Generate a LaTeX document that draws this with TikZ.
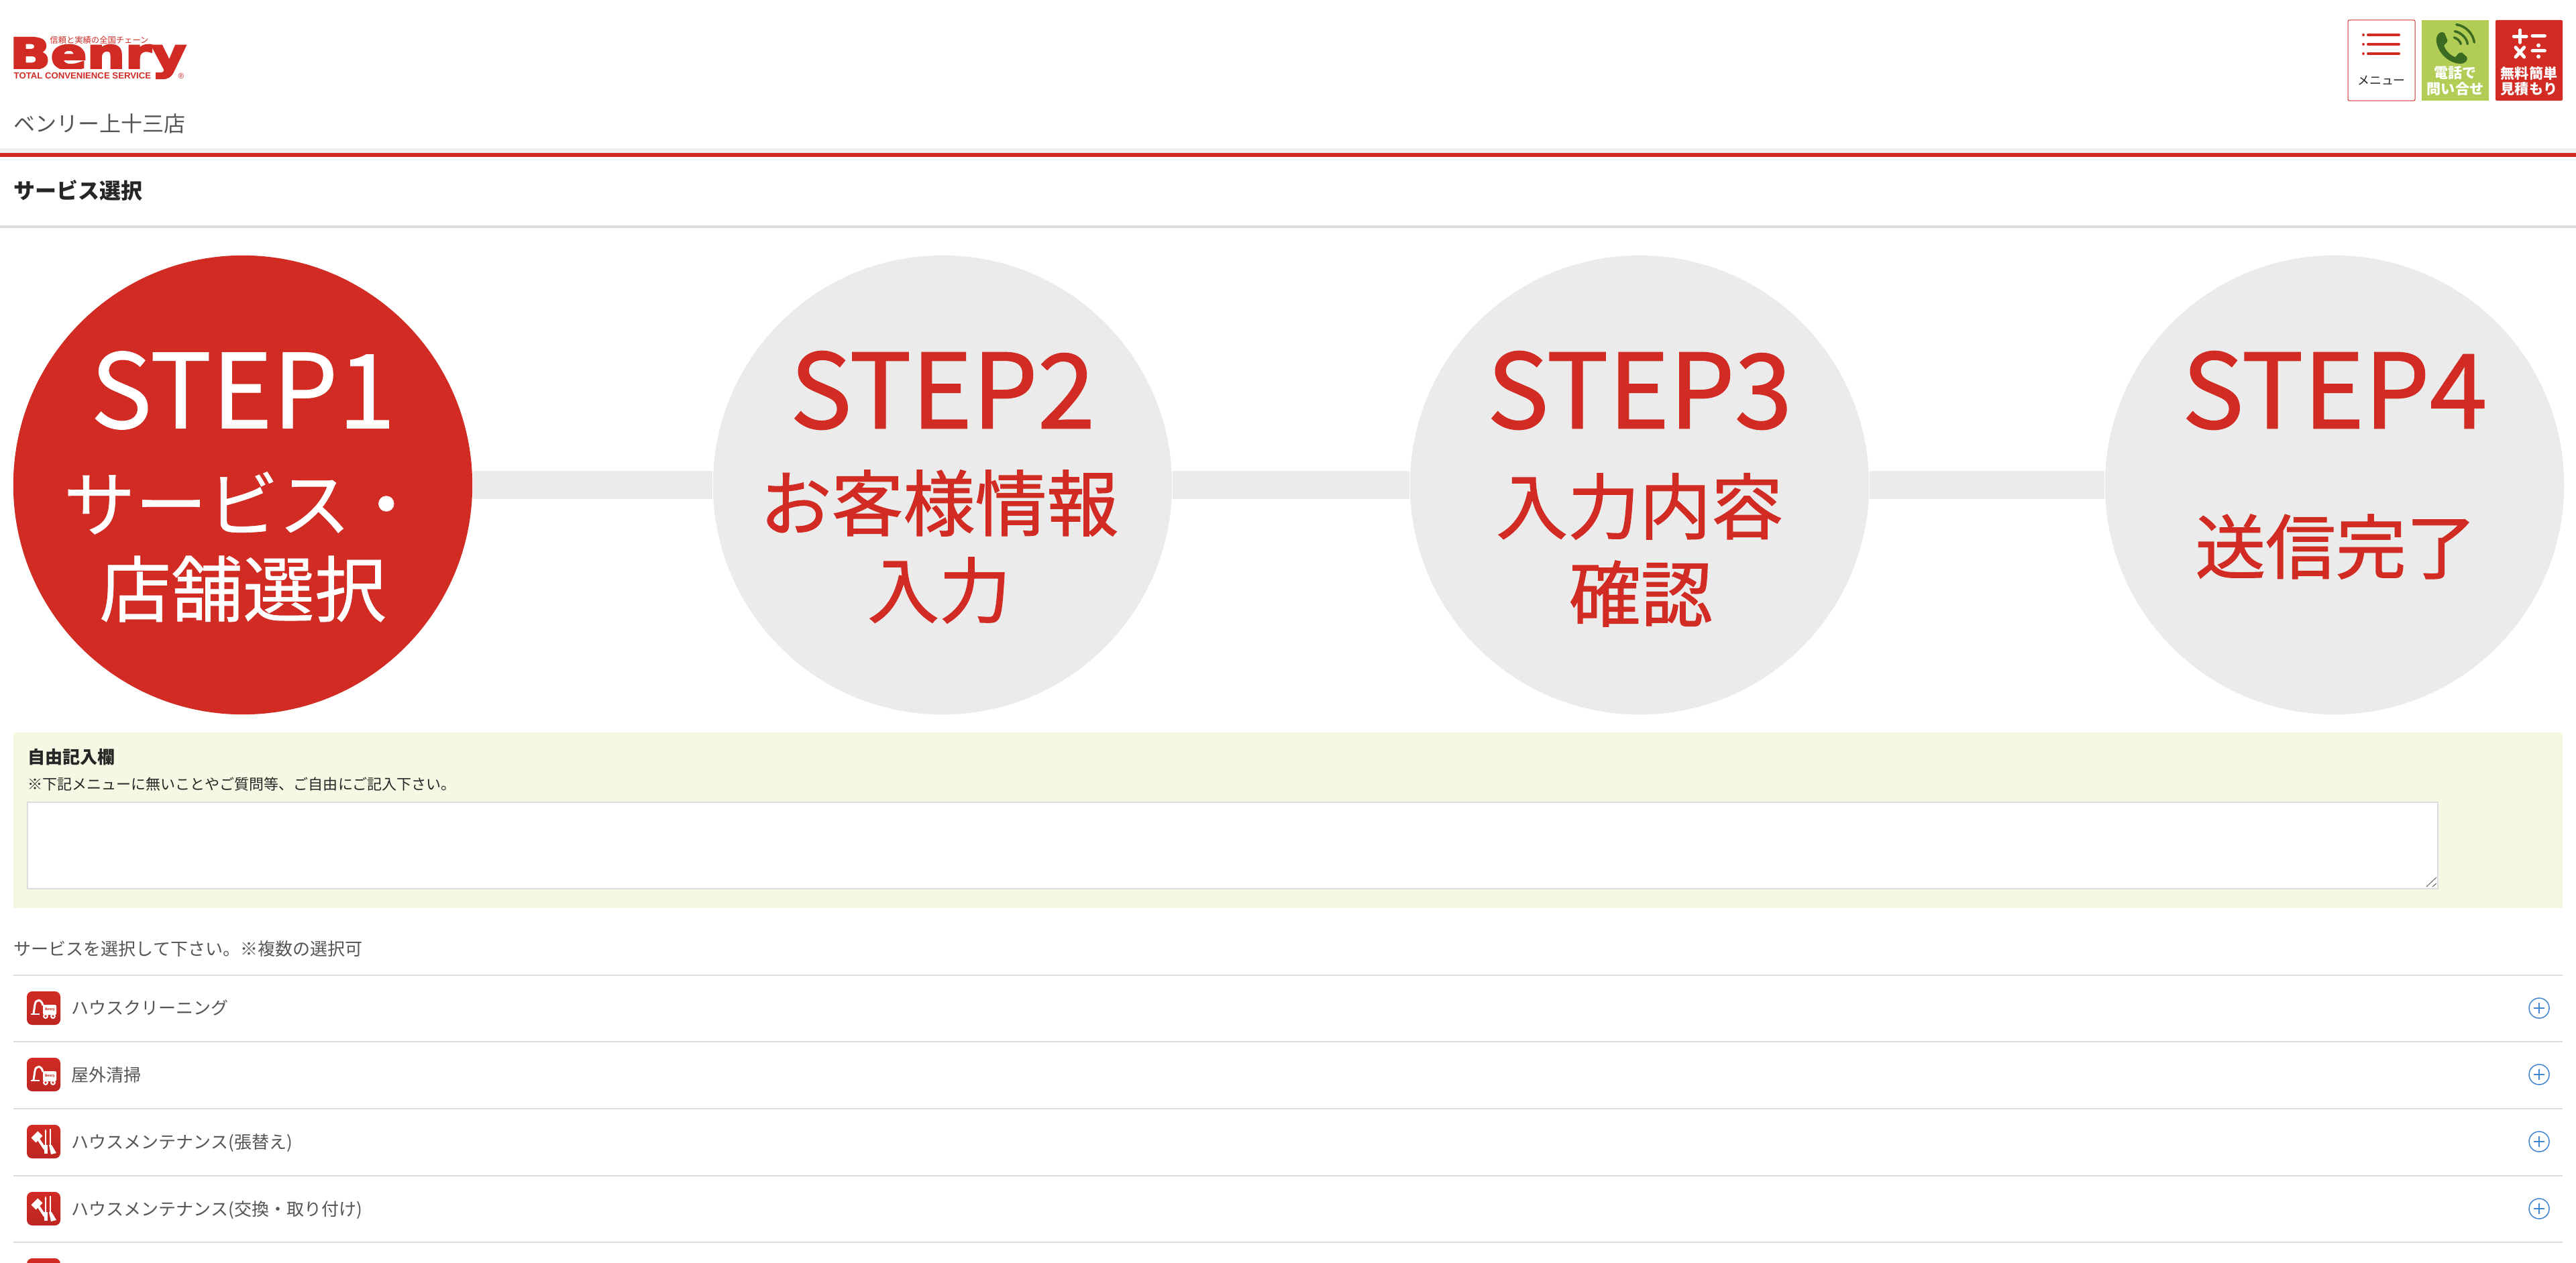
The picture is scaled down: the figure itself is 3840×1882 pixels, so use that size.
\documentclass[tikz,border=0pt]{standalone}
\usepackage{fontspec}
\usepackage{graphicx}
\usepackage{xcolor}
\setmainfont{Noto Sans CJK JP}
\newfontfamily\stepfont[FakeBold=1.2]{Noto Sans CJK JP}
\newfontfamily\whitefont[FakeBold=0.6]{Noto Sans CJK JP}
\newfontfamily\logofont[BoldFeatures={FakeBold=4}]{DejaVu Sans}
\newfontfamily\tagfont{Liberation Sans}
\usetikzlibrary{arrows.meta}
\definecolor{benryred}{HTML}{D12B24}
\definecolor{benrydark}{HTML}{BD2622}
\definecolor{stepgray}{HTML}{EBEBEB}
\definecolor{rulegray}{HTML}{DDDDDD}
\definecolor{panelgreen}{HTML}{F4F9E4}
\definecolor{callgreen}{HTML}{B1CD55}
\definecolor{phonegreen}{HTML}{3B6B22}
\definecolor{bodytext}{HTML}{555555}
\definecolor{plusblue}{HTML}{3F85D2}

\tikzset{
  stepdisc/.style={shape=circle,
    fill=stepgray,
    inner sep=0pt,
    minimum size=6.84cm},
  stepline/.style={draw=stepgray,line width=0.42cm},
  steptitle/.style={text=benryred,inner sep=0pt,font=\stepfont\fontsize{43.8}{50}\selectfont},
  stepword/.style={text=benryred,inner sep=0pt,font=\stepfont\fontsize{30.4}{36}\selectfont},
  rowlabel/.style={anchor=base west,inner sep=0pt,text=bodytext,font=\fontsize{7.4}{9}\selectfont},
  rowrule/.style={draw=rulegray,line width=0.02cm},
  rowplus/.style={draw=plusblue,line width=0.015cm},
  topbutton/.style={shape=rectangle,
    rounded corners=0.02cm,
    inner sep=0pt,
    minimum width=1cm,
    minimum height=1.2cm},
  buttonword/.style={inner sep=0pt,text=white,font=\bfseries\fontsize{6}{7}\selectfont},
  redstroke/.style={draw=benryred,line width=0.04cm,line cap=round},
  whitestroke/.style={draw=white,line width=0.05cm,line cap=round},
  iconbox/.style={rounded corners=0.08cm,top color=benryred,bottom color=benrydark,draw=none},
  vacuum icon/.pic={
    \path[iconbox] (0,0) rectangle (50,50);
    \draw[white,line width=0.025cm] (6,34) -- (19,34);
    \draw[white,line width=0.03cm] (10,33) -- (12,20) .. controls (13,11) and (22,11) .. (24,21);
    \fill[white,rounded corners=0.02cm] (24,20) rectangle (44,35);
    \fill[white] (28,37) circle (4) (39,37) circle (4);
    \fill[benryred] (28,37) circle (1.8) (39,37) circle (1.8);
    \node[inner sep=0pt,text=benryred,font=\bfseries\fontsize{1.4}{2}\selectfont] (-name) at (34.5,27) {Benry};
  },
  tools icon/.pic={
    \path[iconbox] (0,0) rectangle (50,50);
    \fill[white,rotate around={45:(15,18)}] (8,13) rectangle (22,23);
    \draw[white,line width=0.04cm] (15,18) -- (27,36);
    \draw[white,line width=0.02cm] (28,8) -- (28,30);
    \fill[white] (28,6) -- (29.5,11) -- (26.5,11) -- cycle;
    \draw[white,line width=0.015cm] (35,6) -- (35,32);
    \fill[white] (26,30) -- (31,30) -- (31,43) -- (26,43) -- cycle;
    \fill[white] (33,30) -- (37,30) -- (44,42) -- (36,44) -- cycle;
  }
}

\begin{document}
\begin{tikzpicture}[x=0.01cm,y=-0.01cm]
  \clip (0,0) rectangle (3840,1882);
  \fill[white] (0,0) rectangle (3840,1882);

  % logo
  \node[anchor=base west,inner sep=0pt,text=benryred,
    font=\logofont\bfseries\fontsize{18.3}{20}\selectfont] (logo) at (14,103) {\scalebox{1.24}[1]{Benry}};
  \fill[white] (0,103.5) rectangle (226,120);
  \node[anchor=base,inner sep=0pt,text=benryred,
    font=\fontsize{3.5}{4}\selectfont] (slogan) at (148,65) {信頼と実績の全国チェーン};
  \node[anchor=base west,inner sep=0pt,text=benryred,
    font=\tagfont\bfseries\fontsize{3.75}{4}\selectfont] (service) at (20,118) {TOTAL CONVENIENCE SERVICE};
  \node[inner sep=0pt,text=benryred,
    font=\tagfont\fontsize{3.4}{4}\selectfont] (regmark) at (270,113) {®};
  \node[anchor=base west,inner sep=0pt,text=bodytext,
    font=\fontsize{9.1}{11}\selectfont] (shop) at (20,196) {ベンリー上十三店};

  % top buttons
  \node[topbutton,draw=benryred,line width=0.01cm,fill=white] (menubtn) at (3550,90) {};
  \node[topbutton,fill=callgreen,rounded corners=0pt] (callbtn) at (3660,90) {};
  \node[topbutton,fill=benryred] (quotebtn) at (3770,90) {};

  \foreach \rowy in {52,66,80}{
    \fill[benryred] (3523,\rowy) circle (2);
    \draw[redstroke] (3530,\rowy) -- (3576,\rowy);
  }
  \node[inner sep=0pt,text=black!85,font=\fontsize{5.1}{6}\selectfont] (menuword) at (3550,120) {メニュー};

  \begin{scope}[shift={(3440,0)},x=0.01cm/3,y=-0.01cm/3]
    \fill[phonegreen]
      (575,175) .. controls (578,150) and (598,135) .. (612,148) --
      (625,180) .. controls (625,195) and (610,195) .. (610,205) ..
      controls (615,225) and (640,250) .. (660,255) ..
      controls (668,250) and (672,232) .. (690,235) --
      (712,255) .. controls (718,270) and (705,285) .. (680,285) ..
      controls (620,280) and (575,225) .. (575,175) -- cycle;
    \draw[phonegreen,line width=0.035cm,line cap=round]
      (665,110) .. controls (705,115) and (740,150) .. (745,190)
      (658,140) .. controls (685,145) and (712,170) .. (715,197)
      (655,168) .. controls (670,172) and (682,185) .. (685,197);
    \draw[whitestroke] (950,135) -- (950,190) (922,163) -- (978,163);
    \draw[whitestroke] (1005,160) -- (1060,160);
    \draw[whitestroke] (930,212) -- (968,255) (968,212) -- (930,255);
    \draw[whitestroke] (1005,228) -- (1060,228);
    \fill[white] (1032,203) circle (9) (1032,253) circle (9);
  \end{scope}
  \node[buttonword] (callone) at (3660,109) {電話で};
  \node[buttonword] (calltwo) at (3660,133) {問い合せ};
  \node[buttonword] (quoteone) at (3770,109) {無料簡単};
  \node[buttonword] (quotetwo) at (3770,133) {見積もり};

  % page heading
  \fill[stepgray!80] (0,221) rectangle (3840,228);
  \fill[benryred] (0,228) rectangle (3840,234);
  \node[anchor=base west,inner sep=0pt,text=black!85,
    font=\bfseries\fontsize{9.1}{11}\selectfont] (heading) at (20,296) {サービス選択};
  \fill[rulegray] (0,336) rectangle (3840,340);

  % steps
  \node[stepdisc,fill=benryred] (step1) at (362,723) {};
  \node[stepdisc] (step2) at (1405,723) {};
  \node[stepdisc] (step3) at (2444,723) {};
  \node[stepdisc] (step4) at (3480,723) {};
  \draw[stepline] (step1) -- (step2);
  \draw[stepline] (step2) -- (step3);
  \draw[stepline] (step3) -- (step4);

  \node[steptitle,text=white,font=\whitefont\fontsize{43.8}{50}\selectfont] (title1) at (362,582) {STEP1};
  \node[steptitle] (title2) at (1405,582) {STEP2};
  \node[steptitle] (title3) at (2444,582) {STEP3};
  \node[steptitle] (title4) at (3480,582) {STEP4};

  \node[stepword,text=white,font=\whitefont\fontsize{30.4}{36}\selectfont] (word1a) at (362,750) {サービス・};
  \node[stepword,text=white,font=\whitefont\fontsize{30.4}{36}\selectfont] (word1b) at (362,878) {店舗選択};
  \node[stepword] (word2a) at (1400,750) {お客様情報};
  \node[stepword] (word2b) at (1400,880) {入力};
  \node[stepword] (word3a) at (2444,755) {入力内容};
  \node[stepword] (word3b) at (2446,885) {確認};
  \node[stepword,font=\stepfont\fontsize{29.8}{36}\selectfont] (word4a) at (3482,815) {送信完了};

  % free comment panel
  \fill[panelgreen] (20,1092) rectangle (3820,1354);
  \node[anchor=base west,inner sep=0pt,text=black!85,
    font=\bfseries\fontsize{7.4}{9}\selectfont] (freetitle) at (41,1138) {自由記入欄};
  \node[anchor=base west,inner sep=0pt,text=black!85,
    font=\fontsize{6.26}{8}\selectfont] (freenote) at (41,1177) {※下記メニューに無いことやご質問等、ご自由にご記入下さい。};
  \draw[draw=rulegray,line width=0.02cm,fill=white] (41,1196) rectangle (3634,1325);
  \draw[black!60,line width=0.01cm] (3617,1322) -- (3632,1308) (3626,1322) -- (3632,1317);

  % service list
  \node[rowlabel] (pick) at (20,1424) {サービスを選択して下さい。※複数の選択可};
  \foreach \rowy in {1454,1553,1652.5,1752.5,1852}{
    \draw[rowrule] (20,\rowy) -- (3820,\rowy);
  }

  \pic (cleanicon) at (40,1478) {vacuum icon};
  \pic (outdooricon) at (40,1577) {vacuum icon};
  \pic (repapericon) at (40,1677) {tools icon};
  \pic (swapicon) at (40,1777) {tools icon};
  \path[iconbox] (40,1876) rectangle (90,1926);

  \node[rowlabel] (rowone) at (106,1512.5) {ハウスクリーニング};
  \node[rowlabel] (rowtwo) at (106,1612) {屋外清掃};
  \node[rowlabel] (rowthree) at (106,1712) {ハウスメンテナンス(張替え)};
  \node[rowlabel] (rowfour) at (106,1812) {ハウスメンテナンス(交換・取り付け)};

  \foreach \rowy in {1503,1602,1702,1802}{
    \draw[rowplus] (3785,\rowy) circle (15);
    \draw[rowplus] (3777,\rowy) -- (3793,\rowy) (3785,\rowy-8) -- (3785,\rowy+8);
  }
\end{tikzpicture}
\end{document}
